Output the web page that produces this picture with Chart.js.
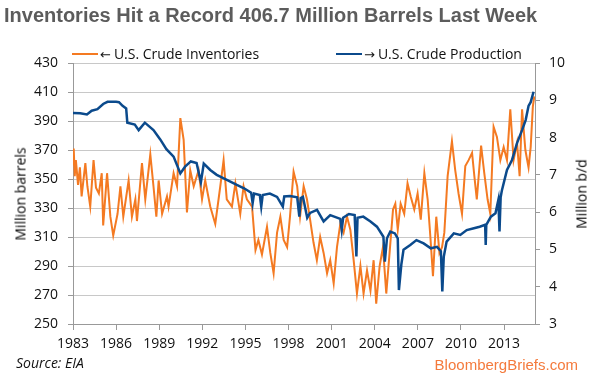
<!DOCTYPE html>
<html>
<head>
<meta charset="utf-8">
<script src="https://cdn.jsdelivr.net/npm/chart.js@4.4.1/dist/chart.umd.min.js"></script>
<style>
  body { margin: 0; background: #fff; }
  #wrap { position: relative; width: 595px; height: 379px; overflow: hidden; font-family: 'Open Sans', sans-serif; }
  canvas { position: absolute; left: 0; top: 0; }
  #title { position: absolute; left: 4px; top: 4px; font: bold 20px 'Liberation Sans', Arial, sans-serif; color: #5c5c5c; white-space: nowrap; }
  .leg { position: absolute; top: 44px; font-size: 14px; color: #111; white-space: nowrap; }
  .leg i { display: inline-block; width: 26px; height: 2px; vertical-align: middle; margin-right: 2px; position: relative; top: -1px; }
  .leg b { font: 13px 'DejaVu Sans', sans-serif; margin-right: 3px; }
  .ytitle { position: absolute; font-size: 14px; color: #000; white-space: nowrap; transform: translate(-50%, -50%) rotate(-90deg); }
  #source { position: absolute; left: 16px; top: 353px; font-style: italic; font-size: 14px; color: #111; }
  #brand { position: absolute; right: 17px; top: 356px; font: 15px 'Liberation Sans', Arial, sans-serif; color: #f47a3c; }
</style>
</head>
<body>
<div id="wrap">
  <canvas id="chart" width="595" height="379"></canvas>
  <div id="title">Inventories Hit a Record 406.7 Million Barrels Last Week</div>
  <div class="leg" style="left:72px"><i style="background:#f47a22"></i><b>←</b>U.S. Crude Inventories</div>
  <div class="leg" style="left:336px"><i style="background:#0b4a8c"></i><b>→</b>U.S. Crude Production</div>
  <div class="ytitle" style="left:20px; top:194px">Million barrels</div>
  <div class="ytitle" style="left:581px; top:194px">Million b/d</div>
  <div id="source">Source: EIA</div>
  <div id="brand">BloombergBriefs.com</div>
</div>
<script>
// x axis labels
const xTickYears = [1983, 1986, 1989, 1992, 1995, 1998, 2001, 2004, 2007, 2010, 2013];

// U.S. crude inventories, million barrels (left axis)
const invYears = [
  1983.00, 1983.05, 1983.12, 1983.20, 1983.35, 1983.48, 1983.60, 1983.86, 1984.00, 1984.20,
  1984.43, 1984.60, 1984.80, 1985.00, 1985.10, 1985.37, 1985.60, 1985.80, 1986.10, 1986.30,
  1986.50, 1986.87, 1987.10, 1987.34, 1987.45, 1987.80, 1988.03, 1988.38, 1988.60, 1988.80,
  1988.96, 1989.20, 1989.54, 1989.65, 1990.00, 1990.24, 1990.47, 1990.70, 1990.93, 1991.16,
  1991.40, 1991.74, 1991.98, 1992.20, 1992.55, 1992.90, 1993.25, 1993.48, 1993.70, 1994.06,
  1994.30, 1994.64, 1994.87, 1995.10, 1995.46, 1995.70, 1995.90, 1996.15, 1996.50, 1996.73,
  1996.96, 1997.20, 1997.43, 1997.66, 1997.90, 1998.10, 1998.35, 1998.60, 1998.80, 1999.05,
  1999.28, 1999.50, 1999.74, 1999.97, 2000.20, 2000.44, 2000.68, 2000.90, 2001.14, 2001.37,
  2001.60, 2001.83, 2002.07, 2002.30, 2002.53, 2002.76, 2003.00, 2003.22, 2003.46, 2003.70,
  2003.92, 2004.10, 2004.34, 2004.57, 2004.80, 2005.03, 2005.27, 2005.43, 2005.60, 2005.80,
  2006.05, 2006.28, 2006.50, 2006.75, 2006.98, 2007.20, 2007.45, 2007.68, 2007.87, 2008.05,
  2008.28, 2008.50, 2008.68, 2008.84, 2009.07, 2009.37, 2009.60, 2009.83, 2010.07, 2010.30,
  2010.53, 2010.77, 2010.93, 2011.10, 2011.40, 2011.62, 2011.85, 2012.04, 2012.27, 2012.50,
  2012.74, 2012.97, 2013.20, 2013.43, 2013.66, 2013.90, 2014.08, 2014.25, 2014.48, 2014.70,
  2014.85, 2015.00, 2015.10
];
const invValues = [
  360, 371, 352, 363, 346, 358, 338, 361, 345, 331,
  363, 344, 340, 354, 318, 354, 324, 311, 326, 345,
  324, 349, 324, 336, 321, 361, 336, 367, 345, 324,
  349, 326, 338, 331, 354, 345, 392, 377, 327, 356,
  345, 356, 336, 349, 331, 319, 345, 363, 336, 331,
  347, 326, 345, 336, 331, 301, 308, 298, 317, 299,
  285, 313, 324, 308, 303, 324, 355, 345, 324, 345,
  336, 322, 306, 294, 310, 299, 285, 294, 278, 303,
  319, 313, 324, 315, 294, 271, 290, 271, 287, 273,
  294, 264, 290, 303, 271, 299, 329, 333, 315, 333,
  326, 347, 338, 329, 340, 322, 354, 336, 310, 283,
  324, 299, 303, 313, 352, 376, 356, 340, 326, 359,
  363, 368, 352, 336, 373, 354, 336, 326, 386, 379,
  363, 372, 363, 398, 363, 375, 352, 398, 370, 358,
  372, 400, 407
];

// U.S. crude production, million barrels per day (right axis)
const prodYears = [
  1983.00, 1983.50, 1983.97, 1984.30, 1984.70, 1985.10, 1985.40, 1986.00, 1986.20, 1986.45,
  1986.70, 1986.78, 1987.30, 1987.57, 1988.00, 1988.60, 1989.07, 1989.50, 1990.00, 1990.47,
  1990.80, 1991.20, 1991.60, 1991.90, 1992.10, 1992.55, 1993.00, 1993.46, 1993.95, 1994.40,
  1994.90, 1995.40, 1995.50, 1995.60, 1996.00, 1996.10, 1996.20, 1996.70, 1997.20, 1997.60,
  1997.70, 1998.10, 1998.60, 1998.75, 1998.85, 1999.00, 1999.30, 1999.50, 1999.98, 2000.44,
  2000.90, 2001.60, 2001.70, 2001.80, 2002.20, 2002.60, 2002.72, 2002.80, 2003.20, 2003.70,
  2004.15, 2004.60, 2004.70, 2004.85, 2005.08, 2005.40, 2005.60, 2005.68, 2005.85, 2006.00,
  2006.47, 2006.90, 2007.40, 2007.90, 2008.33, 2008.60, 2008.70, 2008.80, 2009.00, 2009.50,
  2009.95, 2010.40, 2010.90, 2011.30, 2011.68, 2011.72, 2011.76, 2012.08, 2012.40, 2012.60,
  2012.68, 2012.76, 2012.85, 2013.20, 2013.55, 2013.90, 2014.25, 2014.50, 2014.70, 2014.85,
  2015.05
];
const prodValues = [
  8.66, 8.65, 8.62, 8.72, 8.76, 8.90, 8.96, 8.96, 8.95, 8.85,
  8.78, 8.40, 8.35, 8.20, 8.40, 8.20, 7.95, 7.69, 7.49, 7.04,
  7.22, 7.36, 7.32, 6.80, 7.30, 7.13, 7.00, 6.91, 6.82, 6.73,
  6.64, 6.52, 6.24, 6.50, 6.46, 6.15, 6.46, 6.50, 6.41, 6.15,
  6.42, 6.43, 6.40, 5.88, 6.38, 6.41, 5.85, 5.98, 6.06, 5.75,
  5.92, 5.82, 5.52, 5.85, 5.95, 5.92, 4.81, 5.85, 5.88, 5.75,
  5.61, 5.34, 4.67, 5.30, 5.48, 5.43, 5.30, 3.91, 4.60, 4.99,
  5.12, 5.25, 5.16, 5.03, 5.07, 4.95, 3.87, 4.80, 5.21, 5.43,
  5.39, 5.52, 5.57, 5.61, 5.66, 5.12, 5.66, 5.88, 5.97, 6.33,
  5.48, 6.40, 6.59, 7.13, 7.40, 7.85, 8.20, 8.47, 8.85, 8.95,
  9.23
];

const tickFont = { family: 'Open Sans', size: 14 };

new Chart(document.getElementById('chart'), {
  type: 'line',
  data: {
    datasets: [
      {
        label: 'U.S. Crude Production',
        data: prodYears.map((x, i) => ({ x: x, y: prodValues[i] })),
        yAxisID: 'yRight',
        borderColor: '#0b4a8c',
        borderWidth: 2.5,
        pointRadius: 0,
        order: 0
      },
      {
        label: 'U.S. Crude Inventories',
        data: invYears.map((x, i) => ({ x: x, y: invValues[i] })),
        yAxisID: 'yLeft',
        borderColor: '#f47a22',
        borderWidth: 2,
        pointRadius: 0,
        order: 1
      }
    ]
  },
  options: {
    responsive: false,
    animation: false,
    devicePixelRatio: 1,
    layout: { padding: { top: 63, left: 0, right: 0, bottom: 0 } },
    plugins: { legend: { display: false }, tooltip: { enabled: false } },
    scales: {
      x: {
        type: 'linear',
        min: 1983,
        max: 2015.15,
        afterFit: s => { s.height = 55; },
        afterBuildTicks: s => { s.ticks = xTickYears.map(v => ({ value: v })); },
        grid: { drawOnChartArea: false, tickLength: 6, color: '#999' },
        border: { color: '#999' },
        ticks: { font: tickFont, color: '#111', padding: 6, maxRotation: 0, autoSkip: false, callback: v => String(v) }
      },
      yLeft: {
        position: 'left',
        min: 250,
        max: 430,
        afterFit: s => { s.width = 73; },
        grid: { color: '#c8c8c8', tickColor: '#999', tickLength: 5 },
        border: { color: '#999' },
        ticks: { stepSize: 20, font: tickFont, color: '#111', padding: 10 }
      },
      yRight: {
        position: 'right',
        min: 3,
        max: 10,
        afterFit: s => { s.width = 60; },
        grid: { drawOnChartArea: false, color: '#999', tickLength: 5 },
        border: { color: '#999' },
        ticks: { stepSize: 1, font: tickFont, color: '#111', padding: 9 }
      }
    }
  }
});
</script>
</body>
</html>
